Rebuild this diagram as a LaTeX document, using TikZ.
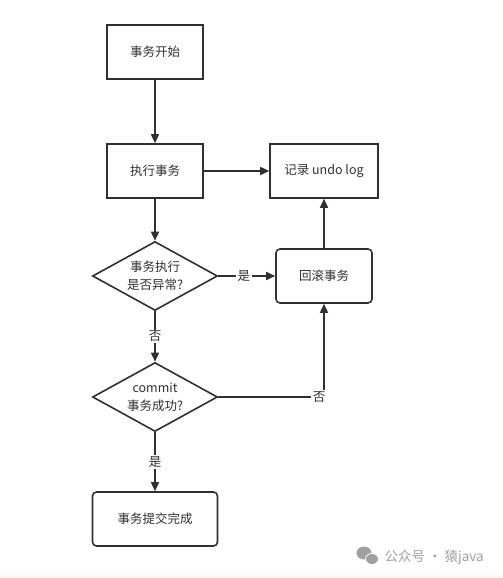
\documentclass[tikz,border=0pt]{standalone}
\usepackage{fontspec}
\newfontfamily\cjk{Noto Sans CJK SC}
\usetikzlibrary{shapes.geometric,arrows.meta,positioning}
\definecolor{linegray}{HTML}{303030}
\definecolor{markgray}{HTML}{A0A0A0}
\tikzset{
  box/.style={draw=linegray, line width=1.6pt, minimum width=96pt, minimum height=54pt,
    inner sep=0pt, font=\cjk\fontsize{12.5}{18}\selectfont, text=linegray, align=center},
  roundbox/.style={box, rounded corners=4pt},
  decision/.style={diamond, draw=linegray, line width=1.6pt, minimum width=125pt,
    minimum height=69pt, aspect=1.8, inner sep=0pt,
    font=\cjk\fontsize{12.5}{18}\selectfont, text=linegray, align=center},
  flow/.style={draw=linegray, line width=1.6pt, -{Triangle[length=9pt,width=8pt]}},
  tag/.style={fill=white, font=\cjk\fontsize{12.5}{15}\selectfont, text=linegray, inner sep=1.5pt}
}

\begin{document}
\begin{tikzpicture}[x=1pt,y=-1pt]
\useasboundingbox (0,0) rectangle (503,578);
\shade[top color=white, bottom color=gray!6] (0,566) rectangle (503,578);

% Boxes
\node[box] (start) at (155,52) {事务开始};
\node[box] (exec) at (155,171) {执行事务};
\node[box, minimum width=108pt] (undo) at (324,171) {记录 undo log};
\node[roundbox] (rollback) at (324,276) {回滚事务};
\node[roundbox, minimum width=125pt] (done) at (155,519) {事务提交完成};

% Decisions
\node[decision] (failed) at (155,276) {事务执行\\是否异常?};
\node[decision] (commit) at (155,397) {commit\\事务成功?};

% Arrows
\draw[flow] (start) -- (exec);
\draw[flow] (exec) -- (undo);
\draw[flow] (exec) -- (failed);
\draw[flow] (failed) -- node[tag, xshift=-3pt] {是} (rollback);
\draw[flow] (rollback) -- (undo);
\draw[flow] (failed) -- node[tag] {否} (commit);
\draw[flow] (commit.east) -| node[tag, pos=0.5, xshift=-5pt] {否} (rollback.south);
\draw[flow] (commit) -- node[tag] {是} (done);

% Watermark
\fill[markgray] (364,553) ellipse (7.5pt and 6.5pt);
\fill[markgray, draw=white, line width=0.8pt] (372,559) ellipse (6.5pt and 5.5pt);
\node[font=\cjk\fontsize{13.5}{15}\selectfont, text=markgray, anchor=west] (mark) at (381,557) {公众号 · 猿java};
\end{tikzpicture}
\end{document}
